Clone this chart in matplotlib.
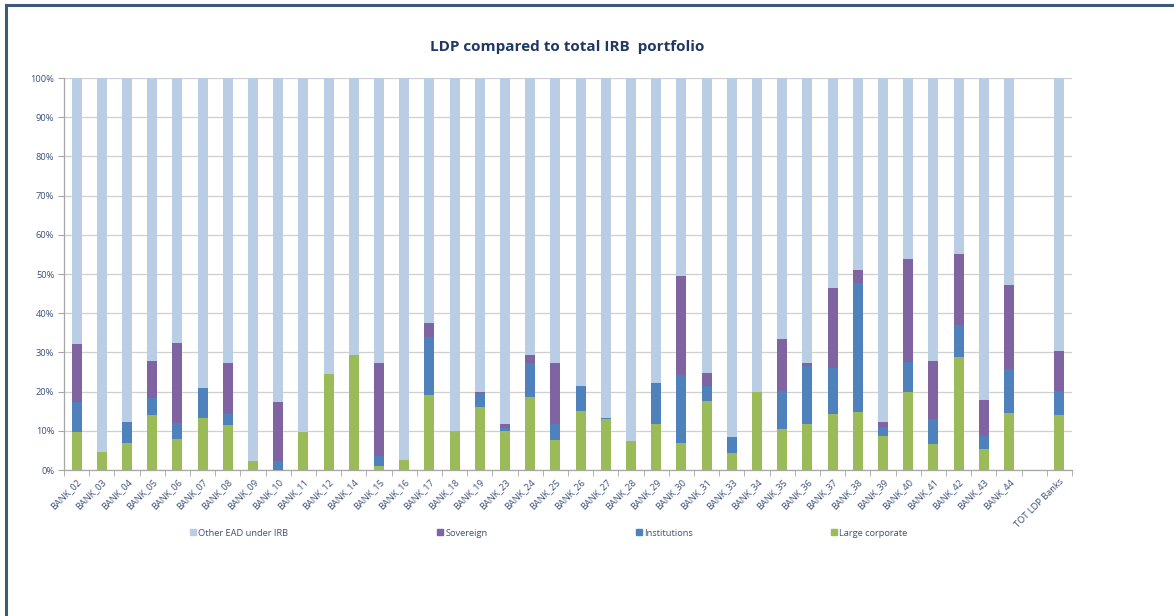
import numpy as np
import matplotlib
matplotlib.use("Agg")
from matplotlib import pyplot as plt
from matplotlib.patches import Patch
from matplotlib.lines import Line2D
from matplotlib.ticker import PercentFormatter

plt.rcParams['font.family'] = ['Open Sans', 'DejaVu Sans']

banks = ['BANK_02', 'BANK_03', 'BANK_04', 'BANK_05', 'BANK_06', 'BANK_07', 'BANK_08',
         'BANK_09', 'BANK_10', 'BANK_11', 'BANK_12', 'BANK_14', 'BANK_15', 'BANK_16',
         'BANK_17', 'BANK_18', 'BANK_19', 'BANK_23', 'BANK_24', 'BANK_25', 'BANK_26',
         'BANK_27', 'BANK_28', 'BANK_29', 'BANK_30', 'BANK_31', 'BANK_33', 'BANK_34',
         'BANK_35', 'BANK_36', 'BANK_37', 'BANK_38', 'BANK_39', 'BANK_40', 'BANK_41',
         'BANK_42', 'BANK_43', 'BANK_44', 'TOT LDP Banks']

# shares of total IRB EAD, in %
large_corp = [9.8, 4.5, 6.8, 14.0, 7.9, 13.2, 11.5, 2.3, 0.0, 9.8, 24.5, 29.3, 1.1, 2.6,
              19.1, 9.9, 16.1, 10.0, 18.5, 7.7, 15.0, 12.9, 7.4, 11.7, 7.0, 17.6, 4.3, 20.0,
              10.5, 11.7, 14.4, 14.8, 8.7, 19.8, 6.7, 28.9, 5.3, 14.6, 14.0]
institutions = [7.6, 0.0, 5.4, 4.3, 4.0, 7.7, 2.9, 0.0, 2.3, 0.0, 0.0, 0.0, 2.4, 0.0,
                14.9, 0.0, 3.4, 0.7, 8.8, 4.0, 6.4, 0.4, 0.0, 10.5, 17.3, 3.9, 4.0, 0.0,
                9.7, 14.8, 11.7, 32.9, 2.3, 7.7, 6.2, 8.0, 3.5, 11.1, 6.2]
sovereign = [14.7, 0.0, 0.0, 9.5, 20.4, 0.0, 12.9, 0.0, 15.1, 0.0, 0.0, 0.0, 23.8, 0.0,
             3.6, 0.0, 0.3, 1.1, 2.1, 15.5, 0.0, 0.0, 0.0, 0.0, 25.1, 3.2, 0.0, 0.0,
             13.2, 0.8, 20.3, 3.2, 1.3, 26.3, 14.8, 18.2, 9.1, 21.5, 10.2]

lc = np.array(large_corp) / 100
inst = np.array(institutions) / 100
sov = np.array(sovereign) / 100
other = 1 - lc - inst - sov

# one empty slot before the total bar
x = np.array(list(range(len(banks) - 1)) + [len(banks)])

c_other = '#b9cde5'
c_sov = '#8064a2'
c_inst = '#4f81bd'
c_lc = '#9bbb59'
txt = '#3b4e7a'

fig = plt.figure(figsize=(11.74, 6.16), dpi=100)
ax = fig.add_axes([64 / 1174, 1 - 470 / 616, (1072 - 64) / 1174, (470 - 78) / 616])

w = 0.4
ax.bar(x, lc, w, color=c_lc, zorder=3)
ax.bar(x, inst, w, bottom=lc, color=c_inst, zorder=3)
ax.bar(x, sov, w, bottom=lc + inst, color=c_sov, zorder=3)
ax.bar(x, other, w, bottom=lc + inst + sov, color=c_other, zorder=3)

ax.set_xlim(-0.5, len(banks) + 0.5)
ax.set_ylim(0, 1)
ax.set_yticks(np.arange(0, 1.01, 0.1))
ax.yaxis.set_major_formatter(PercentFormatter(1.0, decimals=0))
ax.grid(axis='y', color='#cfcfcf', lw=0.9, zorder=0)

ax.set_xticks(x)
ax.set_xticklabels(banks, rotation=45, ha='right', rotation_mode='anchor',
                   fontsize=6.7, color=txt)
ax.set_xticks(np.arange(-0.5, len(banks) + 1), minor=True)
ax.tick_params(axis='x', which='major', length=0, pad=5)
ax.tick_params(axis='x', which='minor', length=4, color='#a6a6a6')
ax.tick_params(axis='y', length=4, color='#a6a6a6', labelsize=6.7, labelcolor=txt, pad=3)

for s in ['top', 'right']:
    ax.spines[s].set_visible(False)
for s in ['left', 'bottom']:
    ax.spines[s].set_color('#a6a6a6')
    ax.spines[s].set_linewidth(0.9)

fig.text(567 / 1174, 1 - 47 / 616, 'LDP compared to total IRB  portfolio',
         ha='center', va='center', fontsize=11, fontweight='bold', color='#1f3864')

labels = ['Other EAD under IRB', 'Sovereign', 'Institutions', 'Large corporate']
colors = [c_other, c_sov, c_inst, c_lc]
lx = [190, 437, 636, 831]
for lab, col, px in zip(labels, colors, lx):
    fig.legend([Patch(color=col)], [lab], loc='center left',
               bbox_to_anchor=(px / 1174, 1 - 533 / 616), frameon=False,
               fontsize=6.7, labelcolor=txt, handlelength=0.6, handleheight=0.6,
               handletextpad=0.3, borderpad=0, borderaxespad=0)

# frame lines on left and top
fig.add_artist(Line2D([6 / 1174, 6 / 1174], [0, 1 - 5 / 616], color='#3d5a78', lw=2.2))
fig.add_artist(Line2D([6 / 1174, 1], [1 - 5 / 616, 1 - 5 / 616], color='#3d5a78', lw=2.2))

fig.savefig('out.png', dpi=100)
